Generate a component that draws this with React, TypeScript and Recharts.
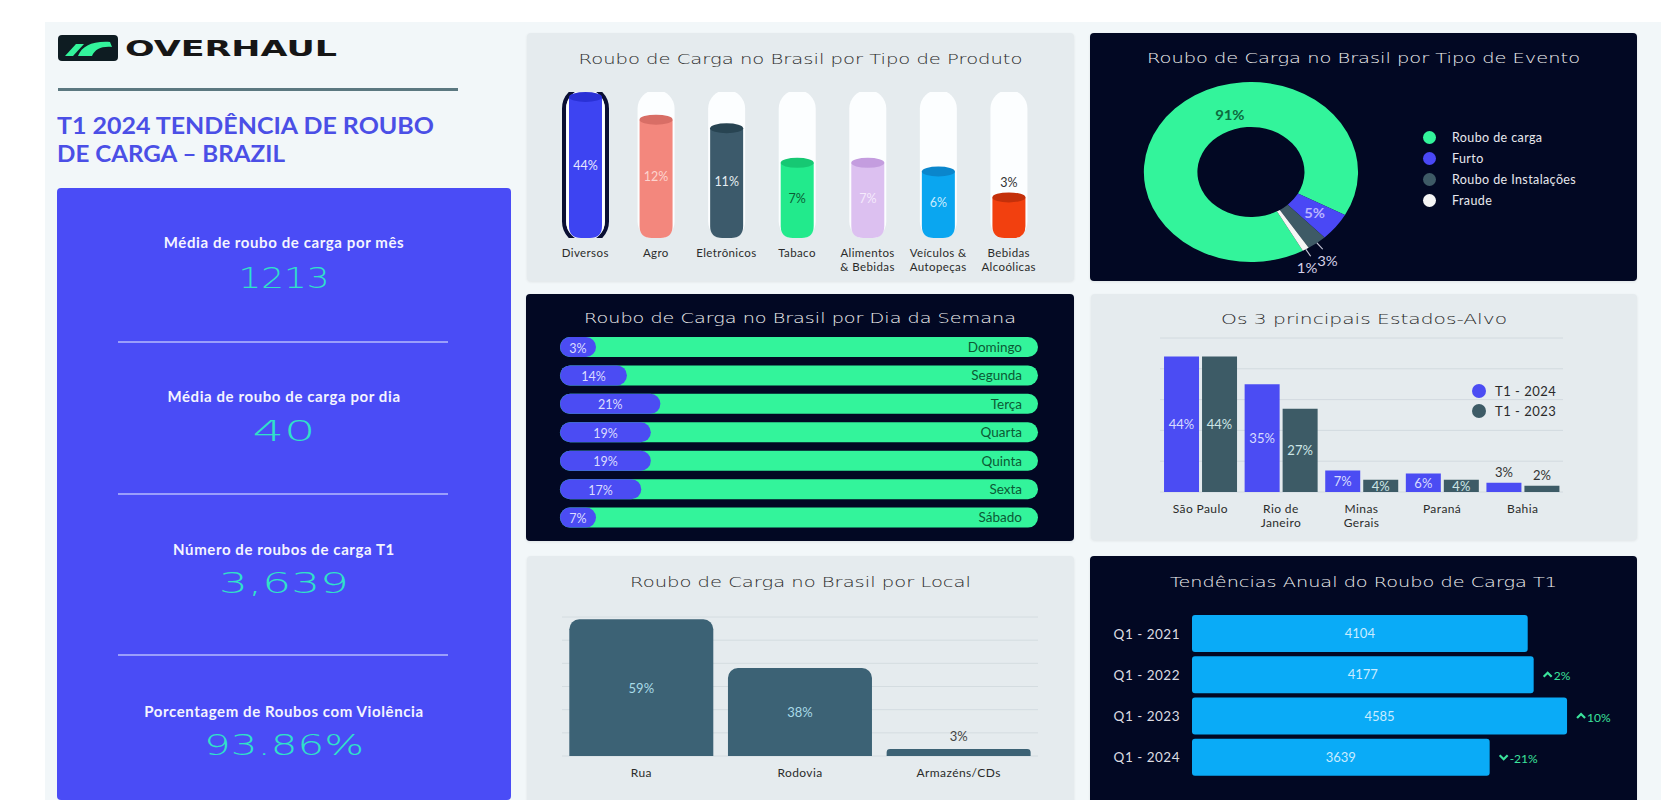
import React from 'react';
import { BarChart, Bar, XAxis, YAxis, CartesianGrid, LabelList, PieChart, Pie, Cell } from 'recharts';

// ---- data ----
const productNames = ['Diversos', 'Agro', 'Eletrônicos', 'Tabaco', 'Alimentos & Bebidas', 'Veículos & Autopeças', 'Bebidas Alcoólicas'];
const productTicks = ['Diversos', 'Agro', 'Eletrônicos', 'Tabaco', 'Alimentos\n& Bebidas', 'Veículos &\nAutopeças', 'Bebidas\nAlcoólicas'];
const productShare = [44, 12, 11, 7, 7, 6, 3];

const eventNames = ['Roubo de carga', 'Furto', 'Roubo de Instalações', 'Fraude'];
const eventShare = [91, 5, 3, 1];

const weekDays = ['Domingo', 'Segunda', 'Terça', 'Quarta', 'Quinta', 'Sexta', 'Sábado'];
const weekShare = [3, 14, 21, 19, 19, 17, 7];

const stateTicks = ['São Paulo', 'Rio de\nJaneiro', 'Minas\nGerais', 'Paraná', 'Bahia'];
const share2024 = [44, 35, 7, 6, 3];
const share2023 = [44, 27, 4, 4, 2];
const seriesNames = ['T1 - 2024', 'T1 - 2023'];

const localNames = ['Rua', 'Rodovia', 'Armazéns/CDs'];
const localShare = [59, 38, 3];

const quarters = ['Q1 - 2021', 'Q1 - 2022', 'Q1 - 2023', 'Q1 - 2024'];
const quarterThefts = [4104, 4177, 4585, 3639];
const quarterChange = [null, 2, 10, -21];

const kpiLabels = ['Média de roubo de carga por mês', 'Média de roubo de carga por dia', 'Número de roubos de carga T1', 'Porcentagem de Roubos com Violência'];
const kpiValues = ['1213', '40', '3,639', '93.86%'];

// ---- styling ----
const DARK = '#020823';
const LIGHT_PANEL = '#e5ebee';
const BLUE = '#4b4cf3';
const GREEN = '#33f49b';
const SLATE = '#3d5b66';
const highlighted = 'Diversos';
const productColors = ['#3d44f2', '#f3877d', '#3c5a6b', '#22ea8c', '#dcc0f0', '#0aa6f0', '#f2400f'];
const productCaps = ['#2a31d6', '#d86e66', '#284452', '#16c873', '#c49ddf', '#0a86cc', '#c4300a'];
const productLabelColors = ['#e6e8ff', '#fdd4cf', '#e6eef2', '#0b5c35', '#f5eafc', '#c9ecff', '#333333'];
const eventColors = [GREEN, '#4a48f5', '#3e5a66', '#f5f5f5'];

const productData = productNames.map((name, i) => ({ name, tick: productTicks[i], value: productShare[i] }));
const eventData = eventNames.map((name, i) => ({ name, value: eventShare[i] }));
const weekData = weekDays.map((day, i) => ({ day, pct: weekShare[i], rest: 100 - weekShare[i] }));
const stateData = stateTicks.map((name, i) => ({ name, a: share2024[i], b: share2023[i] }));
const localData = localNames.map((name, i) => ({ name, value: localShare[i] }));
const trendData = quarters.map((q, i) => ({ q, value: quarterThefts[i], change: quarterChange[i] }));

const RAD = Math.PI / 180;
const LATO = 'Lato, sans-serif';

function Panel({ x, y, w, h, bg, children }: any) {
  return (
    <div style={{ position: 'absolute', left: x, top: y, width: w, height: h, background: bg, borderRadius: 4, overflow: 'hidden', boxShadow: '0 1px 3px rgba(0,0,0,0.08)' }}>
      {children}
    </div>
  );
}

function PanelTitle({ text, w, y, len, color }: any) {
  return (
    <svg style={{ position: 'absolute', left: 0, top: y - 12 }} width={w} height={24}>
      <text x={w / 2} y={17} textAnchor="middle" textLength={len} lengthAdjust="spacingAndGlyphs"
        fontFamily="'DejaVu Sans', sans-serif" fontWeight={300} fontSize={14} fill={color}>{text}</text>
    </svg>
  );
}

function MultiTick({ x, y, payload, base, fs }: any) {
  const lines = String(payload.value).split('\n');
  return (
    <text x={x} y={y + base} textAnchor="middle" fill="#2b2b2b" fontSize={fs} fontFamily={LATO} letterSpacing={0.4}>
      {lines.map((l, i) => <tspan key={i} x={x} dy={i === 0 ? 0 : 14}>{l}</tspan>)}
    </text>
  );
}

function Cylinder(props: any) {
  const { x, y, width, background, index, value } = props;
  const bgY = background ? background.y : 0;
  const bottom = background ? background.y + background.height : y + props.height;
  const ry = 5;
  const top = Math.max(y, bgY + ry);
  const r = 12;
  const hl = productNames[index] === highlighted;
  const inside = bottom - top > 50;
  const body = `M${x},${top} L${x},${bottom - r} Q${x},${bottom} ${x + r},${bottom} L${x + width - r},${bottom} Q${x + width},${bottom} ${x + width},${bottom - r} L${x + width},${top} Z`;
  return (
    <g>
      <rect x={x - 2} y={bgY - 2} width={width + 4} height={bottom - bgY + 4} rx={(width + 4) / 2} fill="#fcfeff" />
      {hl && <rect x={x - 5} y={bgY - 5} width={width + 10} height={bottom - bgY + 10} rx={(width + 10) / 2} fill="none" stroke="#0a0f33" strokeWidth={4} />}
      {hl && <rect x={x - 2} y={bgY - 2} width={width + 4} height={bottom - bgY + 4} rx={(width + 4) / 2} fill="none" stroke="#ffffff" strokeWidth={1.5} />}
      <path d={body} fill={productColors[index]} />
      <ellipse cx={x + width / 2} cy={top} rx={width / 2} ry={ry} fill={productCaps[index]} />
      <text x={x + width / 2} y={inside ? (top + bottom) / 2 - 2 : top - ry - 5} textAnchor="middle" dominantBaseline={inside ? 'central' : 'auto'}
        fill={productLabelColors[index]} fontSize={12.5} fontFamily={LATO}>{value}%</text>
    </g>
  );
}

function DayPill(props: any) {
  const { x, y, width, height, payload } = props;
  const w = Math.max(width, 36);
  return (
    <g>
      <rect x={x} y={y} width={w} height={height} rx={height / 2} fill={BLUE} />
      <text x={x + w / 2} y={y + height / 2 + 1} textAnchor="middle" dominantBaseline="central" fill="#dcdcff" fontSize={12.5} fontFamily={LATO}>{payload.pct}%</text>
    </g>
  );
}

function eventLabel(p: any) {
  const { cx, cy, midAngle, innerRadius, outerRadius, index, value } = p;
  if (index < 2) {
    const a = index === 0 ? midAngle - 28 : midAngle;
    const r = index === 0 ? 60 : (innerRadius + outerRadius) / 2;
    const x = cx + r * Math.cos(-a * RAD);
    const y = cy + r * Math.sin(-a * RAD);
    return <text x={x} y={y} textAnchor="middle" dominantBaseline="central" fill={index === 0 ? '#0d6b3e' : '#b9b4ff'} fontSize={12.5} fontWeight={700} fontFamily={LATO}>{value}%</text>;
  }
  const c = Math.cos(-midAngle * RAD);
  const s = Math.sin(-midAngle * RAD);
  const sx = cx + outerRadius * c, sy = cy + outerRadius * s;
  const ex = cx + (outerRadius + 8) * c, ey = cy + (outerRadius + 8) * s;
  const tx = ex + (index === 2 ? 4 : -3);
  return (
    <g>
      <line x1={sx} y1={sy} x2={ex} y2={ey} stroke="#c8c8d8" strokeWidth={1} />
      <text x={tx} y={ey + 12} textAnchor="middle" dominantBaseline="central" fill="#d4d0e8" fontSize={12.5} fontFamily={LATO}>{value}%</text>
    </g>
  );
}

function stateLabel(color: string) {
  return (p: any) => {
    const { x, y, width, height, value } = p;
    const inside = height >= 10;
    return (
      <text x={x + width / 2} y={inside ? y + height / 2 : y - 6} textAnchor="middle" dominantBaseline={inside ? 'central' : 'auto'}
        fill={inside ? color : '#333'} fontSize={13} fontFamily={LATO}>{value}%</text>
    );
  };
}

function localLabel(p: any) {
  const { x, y, width, height, value } = p;
  const inside = height >= 20;
  return (
    <text x={x + width / 2} y={inside ? y + height / 2 : y - 8} textAnchor="middle" dominantBaseline={inside ? 'central' : 'auto'}
      fill={inside ? '#a9dbe8' : '#444'} fontSize={13} fontFamily={LATO}>{value}%</text>
  );
}

function changeLabel(p: any) {
  const { x, y, width, height, value } = p;
  if (value === null || value === undefined) return null;
  const cx = x + width + 14;
  const cy = y + height / 2;
  const up = value > 0;
  const d = up ? `M${cx - 4},${cy + 2} L${cx},${cy - 2} L${cx + 4},${cy + 2}` : `M${cx - 4},${cy - 2} L${cx},${cy + 2} L${cx + 4},${cy - 2}`;
  return (
    <g>
      <path d={d} fill="none" stroke="#3be39c" strokeWidth={2.2} />
      <text x={cx + 6} y={cy + 1} dominantBaseline="central" fill="#3be39c" fontSize={12} fontFamily={LATO}>{value}%</text>
    </g>
  );
}

function QuarterTick({ x, y, payload }: any) {
  return (
    <text x={x} y={y} textAnchor="end" dominantBaseline="central" fill="#dcdce2" fontSize={13.5} fontWeight={400} fontFamily={LATO} letterSpacing={0.5}>{payload.value}</text>
  );
}

function Logo() {
  return (
    <svg style={{ position: 'absolute', left: 58, top: 35 }} width={290} height={26}>
      <rect x={0} y={0} width={60} height={26} rx={4} fill="#0e1c22" />
      <path d="M7,21 L18,9 L26,9 L15,21 Z" fill="#33f49b" />
      <path d="M20,21 C24,11 34,6 52,7 L54,12 C44,11 37,14 34,21 Z" fill="#33f49b" />
      <text x={67} y={21} textLength={212} lengthAdjust="spacingAndGlyphs" fontFamily="'DejaVu Sans', sans-serif" fontWeight={700} fontSize={21} fill="#161616">OVERHAUL</text>
    </svg>
  );
}

const kpiLabelY = [242, 396, 549, 711];
const kpiValueY = [278, 431, 583, 745];
const kpiValueLen = [91, 63, 130, 160];
const kpiRuleY = [341, 493, 654];

export default function App() {
  return (
    <div style={{ position: 'absolute', left: 0, top: 0, width: 1661, height: 800, background: '#ffffff', overflow: 'hidden', fontFamily: LATO }}>
      <div style={{ position: 'absolute', left: 45, top: 22, width: 1616, height: 778, background: '#f2f7f9' }} />

      {/* header */}
      <Logo />
      <div style={{ position: 'absolute', left: 58, top: 88, width: 400, height: 3, background: '#5b7880' }} />
      <svg style={{ position: 'absolute', left: 57, top: 108 }} width={420} height={60}>
        <text x={0} y={26} textLength={377} lengthAdjust="spacingAndGlyphs" fontFamily={LATO} fontWeight={700} fontSize={22} fill="#4b4fe6">T1 2024 TENDÊNCIA DE ROUBO</text>
        <text x={0} y={54} textLength={228} lengthAdjust="spacingAndGlyphs" fontFamily={LATO} fontWeight={700} fontSize={22} fill="#4b4fe6">DE CARGA – BRAZIL</text>
      </svg>

      {/* KPI column */}
      <div style={{ position: 'absolute', left: 57, top: 188, width: 454, height: 612, background: '#4a4cf6', borderRadius: 4 }}>
        {kpiLabels.map((l, i) => (
          <div key={l} style={{ position: 'absolute', left: 0, width: 454, top: kpiLabelY[i] - 188 - 10, textAlign: 'center', color: '#f4f4ff', fontSize: 15, letterSpacing: 0.6, fontWeight: 700, lineHeight: '20px' }}>{l}</div>
        ))}
        {kpiValues.map((v, i) => (
          <svg key={v} style={{ position: 'absolute', left: 0, top: kpiValueY[i] - 188 - 18 }} width={454} height={36}>
            <text x={227} y={28} textAnchor="middle" textLength={kpiValueLen[i]} lengthAdjust="spacingAndGlyphs"
              fontFamily="'DejaVu Sans', sans-serif" fontWeight={300} fontSize={28} fill="#30e2c8">{v}</text>
          </svg>
        ))}
        {kpiRuleY.map((y) => (
          <div key={y} style={{ position: 'absolute', left: 61, top: y - 188, width: 330, height: 1.5, background: 'rgba(220,225,255,0.55)' }} />
        ))}
      </div>

      {/* product */}
      <Panel x={527} y={33} w={547} h={248} bg={LIGHT_PANEL}>
        <PanelTitle text="Roubo de Carga no Brasil por Tipo de Produto" w={547} y={26} len={444} color="#2a2a2a" />
        <BarChart width={547} height={248} data={productData} margin={{ top: 59, right: 30, bottom: 0, left: 23 }}>
          <XAxis dataKey="tick" axisLine={false} tickLine={false} tickSize={0} tickMargin={0} interval={0} height={43}
            tick={(p: any) => <MultiTick {...p} base={19} fs={11.5} />} />
          <YAxis hide domain={[-1.7, 15.2]} allowDataOverflow />
          <Bar dataKey="value" barSize={33} shape={Cylinder} isAnimationActive={false} />
        </BarChart>
      </Panel>

      {/* event donut */}
      <Panel x={1090} y={33} w={547} h={248} bg={DARK}>
        <PanelTitle text="Roubo de Carga no Brasil por Tipo de Evento" w={547} y={25} len={433} color="#f0f0f0" />
        <div style={{ position: 'absolute', left: 30, top: 9, width: 250, height: 235, transform: 'scaleX(1.19)', transformOrigin: '125px 125px' }}>
          <PieChart width={250} height={235}>
            <Pie data={eventData} dataKey="value" nameKey="name" cx={125} cy={125} innerRadius={45} outerRadius={90}
              startAngle={299} endAngle={-61} stroke="none" label={eventLabel} labelLine={false} isAnimationActive={false}>
              {eventData.map((e, i) => <Cell key={e.name} fill={eventColors[i]} />)}
            </Pie>
          </PieChart>
        </div>
        {eventNames.map((n, i) => (
          <div key={n} style={{ position: 'absolute', left: 333, top: 104 + i * 21.3 - 9, height: 18, display: 'flex', alignItems: 'center' }}>
            <span style={{ width: 13, height: 13, borderRadius: '50%', background: eventColors[i], display: 'inline-block' }} />
            <span style={{ marginLeft: 16, color: '#e8e8ee', fontSize: 12.5, letterSpacing: 0.4 }}>{n}</span>
          </div>
        ))}
      </Panel>

      {/* week */}
      <Panel x={526} y={294} w={548} h={247} bg={DARK}>
        <PanelTitle text="Roubo de Carga no Brasil por Dia da Semana" w={548} y={24} len={432} color="#f0f0f0" />
        <BarChart width={548} height={247} data={weekData} layout="vertical" margin={{ top: 39, right: 36, bottom: 9, left: 34 }}>
          <XAxis type="number" domain={[0, 100]} hide />
          <YAxis type="category" dataKey="day" hide />
          <Bar dataKey="pct" stackId="w" barSize={20} background={{ fill: GREEN, radius: 10 }} shape={DayPill} isAnimationActive={false} />
          <Bar dataKey="rest" stackId="w" barSize={20} fill="transparent" isAnimationActive={false}>
            <LabelList dataKey="day" position="insideRight" offset={16} fill="#0b5a35" fontSize={13.5} fontFamily={LATO} />
          </Bar>
        </BarChart>
      </Panel>

      {/* states */}
      <Panel x={1091} y={294} w={546} h={246} bg={LIGHT_PANEL}>
        <PanelTitle text="Os 3 principais Estados-Alvo" w={546} y={25} len={286} color="#2a2a2a" />
        <BarChart width={546} height={246} data={stateData} margin={{ top: 44, right: 74, bottom: 8, left: 69 }} barCategoryGap="5%" barGap={3}>
          <CartesianGrid vertical={false} stroke="#d2dadf" />
          <XAxis dataKey="name" axisLine={false} tickLine={false} tickSize={0} tickMargin={0} interval={0} height={40}
            tick={(p: any) => <MultiTick {...p} base={21} fs={12} />} />
          <YAxis hide domain={[0, 50]} ticks={[0, 10, 20, 30, 40, 50]} />
          <Bar dataKey="a" name={seriesNames[0]} fill={BLUE} isAnimationActive={false}>
            <LabelList dataKey="a" content={stateLabel('#d8dcff')} />
          </Bar>
          <Bar dataKey="b" name={seriesNames[1]} fill={SLATE} isAnimationActive={false}>
            <LabelList dataKey="b" content={stateLabel('#cde6e6')} />
          </Bar>
        </BarChart>
        {seriesNames.map((n, i) => (
          <div key={n} style={{ position: 'absolute', left: 381, top: 97 + i * 20 - 9, height: 18, display: 'flex', alignItems: 'center' }}>
            <span style={{ width: 14, height: 14, borderRadius: '50%', background: i === 0 ? BLUE : SLATE, display: 'inline-block' }} />
            <span style={{ marginLeft: 9, color: '#2a2a2a', fontSize: 13, letterSpacing: 0.5 }}>{n}</span>
          </div>
        ))}
      </Panel>

      {/* local */}
      <Panel x={527} y={556} w={547} h={250} bg={LIGHT_PANEL}>
        <PanelTitle text="Roubo de Carga no Brasil por Local" w={547} y={26} len={341} color="#2a2a2a" />
        <BarChart width={547} height={244} data={localData} margin={{ top: 61, right: 36, bottom: 14, left: 35 }} barCategoryGap="4.6%">
          <CartesianGrid vertical={false} stroke="#d4dce0" />
          <XAxis dataKey="name" axisLine={false} tickLine={false} tickSize={0} tickMargin={0} interval={0} height={30}
            tick={(p: any) => <MultiTick {...p} base={21} fs={12} />} />
          <YAxis hide domain={[0, 60]} ticks={[0, 10, 20, 30, 40, 50, 60]} />
          <Bar dataKey="value" fill="#3c6275" radius={[10, 10, 0, 0]} isAnimationActive={false}>
            <LabelList dataKey="value" content={localLabel} />
          </Bar>
        </BarChart>
      </Panel>

      {/* trend */}
      <Panel x={1090} y={556} w={547} h={250} bg={DARK}>
        <PanelTitle text="Tendências Anual do Roubo de Carga T1" w={547} y={26} len={387} color="#f0f0f0" />
        <BarChart width={547} height={244} data={trendData} layout="vertical" margin={{ top: 57, right: 36, bottom: 22, left: 12 }}>
          <XAxis type="number" domain={[0, 5000]} hide />
          <YAxis type="category" dataKey="q" width={90} axisLine={false} tickLine={false} tickSize={0} tickMargin={12}
            tick={QuarterTick} />
          <Bar dataKey="value" barSize={37} fill="#0aabf7" radius={3} isAnimationActive={false}>
            <LabelList dataKey="value" position="center" fill="#c9ecff" fontSize={13} fontFamily={LATO} />
            <LabelList dataKey="change" content={changeLabel} />
          </Bar>
        </BarChart>
      </Panel>
    </div>
  );
}
